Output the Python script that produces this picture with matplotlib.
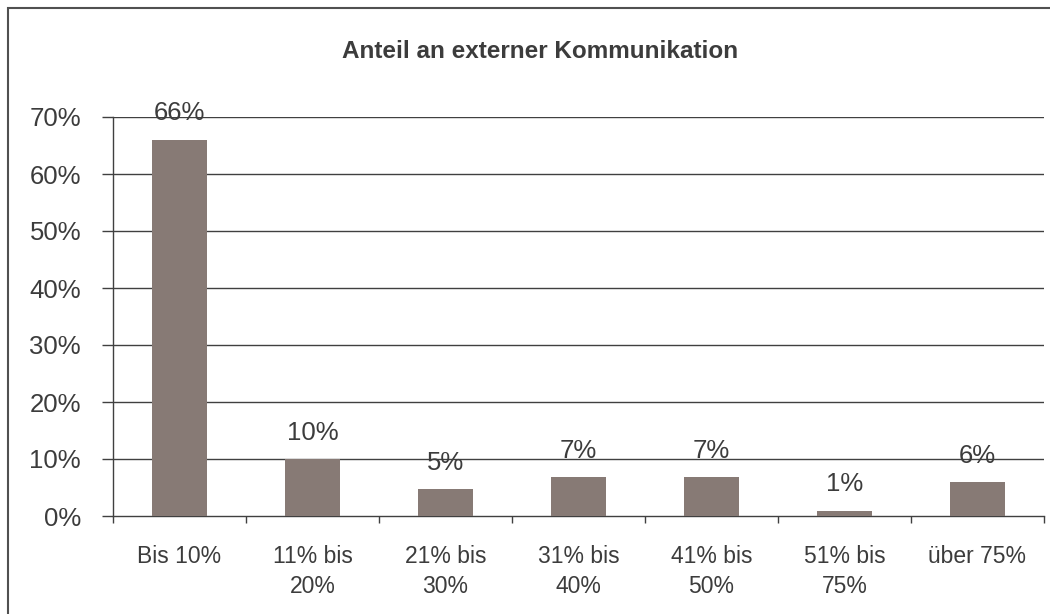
import matplotlib
matplotlib.use("Agg")
import matplotlib.pyplot as plt
from matplotlib.patches import Rectangle

categories = ["Bis 10%", "11% bis\n20%", "21% bis\n30%", "31% bis\n40%",
              "41% bis\n50%", "51% bis\n75%", "über 75%"]
values = [66, 10, 4.7, 6.8, 6.8, 0.9, 5.9]
labels = ["66%", "10%", "5%", "7%", "7%", "1%", "6%"]
yticks = [0, 10, 20, 30, 40, 50, 60, 70]

bar_color = "#877a75"
text_color = "#3c3c3c"
line_color = "#404040"

plt.rcParams["font.family"] = ["Liberation Sans", "DejaVu Sans"]

fig = plt.figure(figsize=(10.5, 6.14), dpi=100)
ax = fig.add_axes([113/1050, 1-516/614, (1044-113)/1050, (516-117)/614])

x = range(len(categories))
ax.bar(x, values, width=0.41, color=bar_color, zorder=3)
for xi, v, lab in zip(x, values, labels):
    ax.annotate(lab, (xi, v), xytext=(0, 14), textcoords="offset points",
                ha="center", va="baseline", fontsize=18.5, color=text_color, zorder=4)

ax.set_xlim(-0.5, len(categories)-0.5)
ax.set_ylim(0, 70)
ax.set_yticks(yticks)
ax.set_yticklabels([f"{t}%" for t in yticks])
ax.set_xticks([i - 0.5 for i in range(len(categories)+1)], minor=False)
ax.set_xticklabels([])
ax.set_xticks(list(x), minor=True)
ax.set_xticklabels(categories, minor=True, linespacing=1.4, va="top")
ax.tick_params(axis="x", which="minor", length=0, pad=21, labelsize=16.5, labelcolor=text_color)
ax.tick_params(axis="x", which="major", length=5, width=1, color=line_color, direction="out")
ax.tick_params(axis="y", length=8, width=1, color=line_color, pad=15, labelsize=18.5, labelcolor=text_color)

for t in yticks[1:]:
    ax.axhline(t, color=line_color, lw=1, zorder=1)
for s in ["top", "right"]:
    ax.spines[s].set_visible(False)
for s in ["left", "bottom"]:
    ax.spines[s].set_color(line_color)
    ax.spines[s].set_linewidth(1)

fig.text(540/1050, 1-51/614, "Anteil an externer Kommunikation", ha="center", va="center",
         fontsize=17.5, fontweight="bold", color=text_color)

fig.patches.append(Rectangle((8/1050, -0.1), 1.2, 1-8/614+0.1, transform=fig.transFigure,
                             fill=False, edgecolor="#505050", lw=1.5))

fig.savefig("out.png", dpi=100)
